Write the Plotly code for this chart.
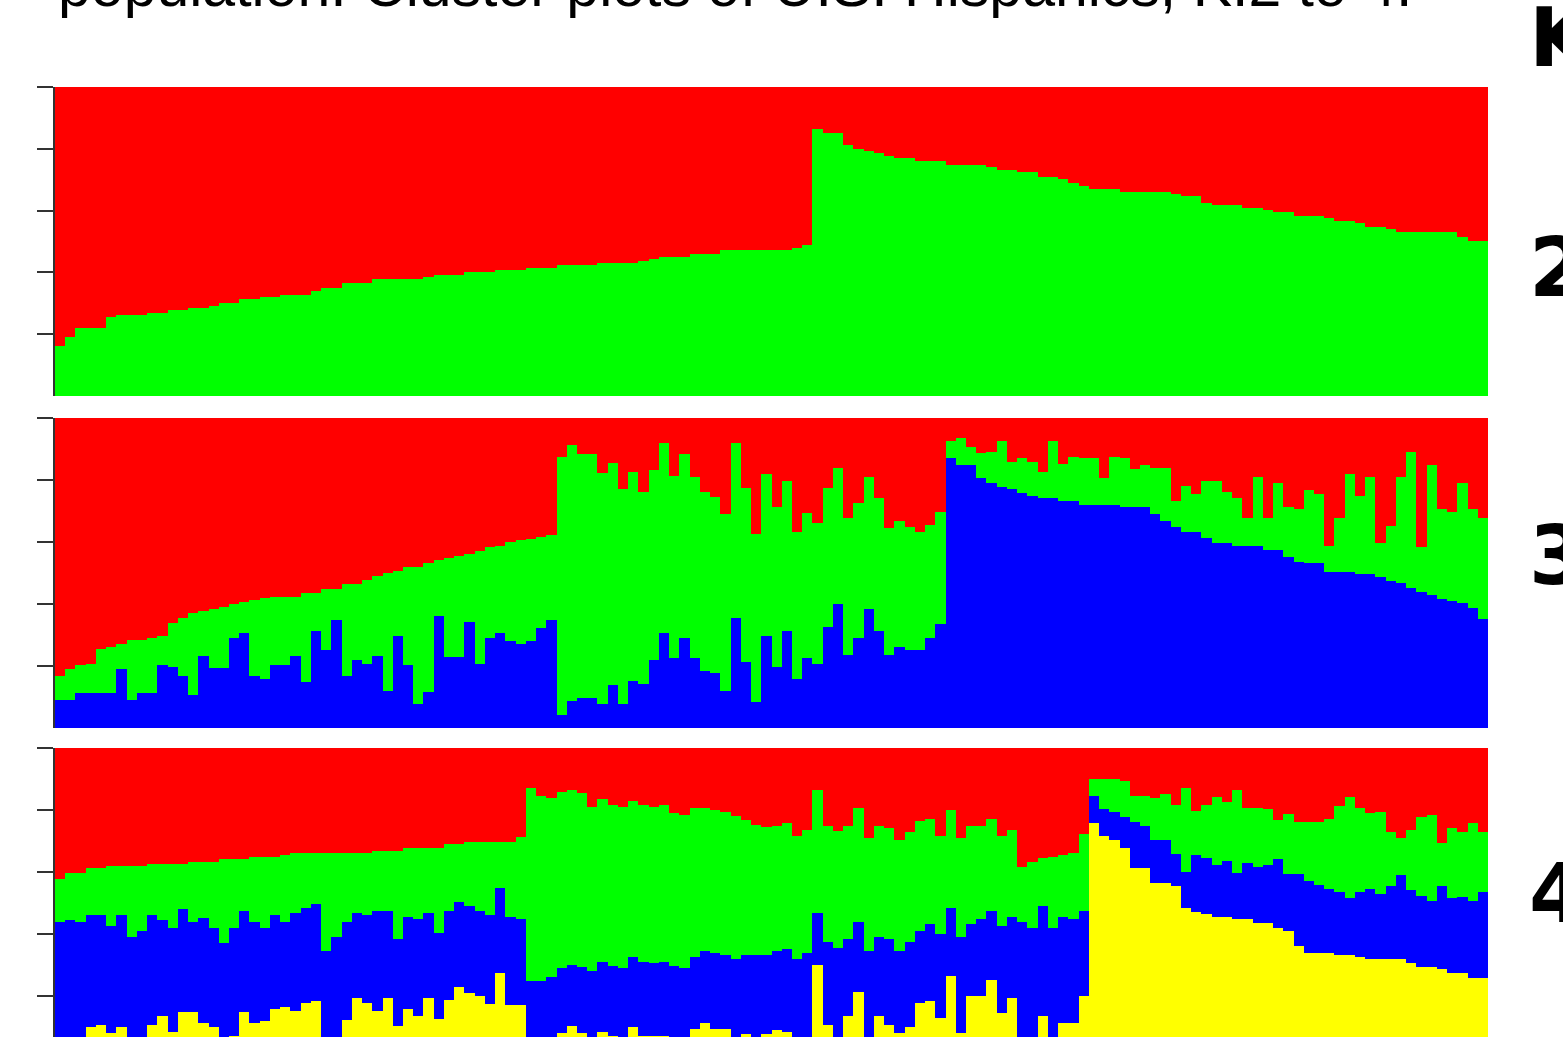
import numpy as np
import plotly.graph_objects as go

# ---------------- data (cluster membership boundaries) -------------
individuals = list(range(140))

# K=2 : proportion of the green cluster (bottom); red = remainder
k2_green = [0.163, 0.192, 0.219, 0.219, 0.219, 0.255, 0.262, 0.262, 0.262, 0.270,
            0.270, 0.278, 0.278, 0.284, 0.284, 0.291, 0.300, 0.300, 0.313, 0.313,
            0.320, 0.320, 0.327, 0.327, 0.327, 0.341, 0.350, 0.350, 0.365, 0.365,
            0.365, 0.378, 0.378, 0.378, 0.378, 0.378, 0.386, 0.393, 0.393, 0.393,
            0.400, 0.400, 0.400, 0.408, 0.408, 0.408, 0.415, 0.415, 0.415, 0.423,
            0.423, 0.423, 0.423, 0.429, 0.429, 0.429, 0.429, 0.436, 0.443, 0.451,
            0.451, 0.451, 0.459, 0.459, 0.459, 0.472, 0.472, 0.472, 0.472, 0.472,
            0.472, 0.472, 0.480, 0.489, 0.863, 0.850, 0.850, 0.812, 0.799, 0.792,
            0.785, 0.777, 0.770, 0.770, 0.762, 0.762, 0.762, 0.747, 0.747, 0.747,
            0.747, 0.740, 0.732, 0.732, 0.725, 0.725, 0.710, 0.710, 0.703, 0.689,
            0.681, 0.670, 0.670, 0.670, 0.661, 0.661, 0.661, 0.661, 0.661, 0.654,
            0.647, 0.647, 0.624, 0.618, 0.618, 0.618, 0.610, 0.610, 0.603, 0.596,
            0.596, 0.582, 0.582, 0.582, 0.576, 0.567, 0.567, 0.559, 0.546, 0.546,
            0.539, 0.530, 0.530, 0.530, 0.530, 0.530, 0.530, 0.516, 0.502, 0.502]

# K=3 : cumulative boundaries (blue at bottom, then green, red on top)
k3_blue_top = [0.090, 0.090, 0.112, 0.112, 0.112, 0.112, 0.189, 0.090, 0.112, 0.112,
               0.203, 0.198, 0.169, 0.106, 0.232, 0.193, 0.193, 0.289, 0.305, 0.169,
               0.157, 0.203, 0.203, 0.232, 0.149, 0.313, 0.252, 0.348, 0.169, 0.219,
               0.206, 0.232, 0.119, 0.297, 0.203, 0.076, 0.117, 0.362, 0.228, 0.228,
               0.341, 0.206, 0.289, 0.305, 0.280, 0.272, 0.280, 0.322, 0.348, 0.042,
               0.087, 0.098, 0.098, 0.076, 0.139, 0.076, 0.153, 0.142, 0.219, 0.305,
               0.225, 0.289, 0.225, 0.184, 0.176, 0.119, 0.356, 0.212, 0.085, 0.297,
               0.198, 0.313, 0.157, 0.225, 0.206, 0.327, 0.399, 0.235, 0.291, 0.384,
               0.314, 0.235, 0.262, 0.252, 0.252, 0.291, 0.334, 0.870, 0.848, 0.848,
               0.805, 0.791, 0.778, 0.771, 0.757, 0.748, 0.741, 0.741, 0.733, 0.733,
               0.719, 0.719, 0.719, 0.719, 0.712, 0.712, 0.712, 0.690, 0.669, 0.647,
               0.633, 0.633, 0.612, 0.596, 0.596, 0.588, 0.588, 0.588, 0.574, 0.574,
               0.553, 0.537, 0.531, 0.531, 0.502, 0.502, 0.502, 0.496, 0.496, 0.488,
               0.474, 0.467, 0.451, 0.438, 0.429, 0.416, 0.410, 0.402, 0.386, 0.351]

k3_green_top = [0.169, 0.189, 0.203, 0.208, 0.254, 0.262, 0.270, 0.284, 0.284, 0.289,
                0.297, 0.340, 0.354, 0.370, 0.378, 0.384, 0.391, 0.399, 0.405, 0.413,
                0.418, 0.421, 0.421, 0.421, 0.434, 0.434, 0.448, 0.448, 0.463, 0.463,
                0.477, 0.491, 0.500, 0.506, 0.520, 0.520, 0.533, 0.542, 0.549, 0.555,
                0.562, 0.571, 0.584, 0.587, 0.599, 0.606, 0.610, 0.615, 0.623, 0.875,
                0.913, 0.884, 0.884, 0.822, 0.854, 0.770, 0.825, 0.762, 0.832, 0.918,
                0.813, 0.883, 0.811, 0.762, 0.746, 0.689, 0.918, 0.775, 0.626, 0.818,
                0.712, 0.797, 0.631, 0.695, 0.660, 0.775, 0.840, 0.676, 0.725, 0.811,
                0.741, 0.646, 0.668, 0.647, 0.633, 0.655, 0.696, 0.927, 0.934, 0.905,
                0.886, 0.891, 0.927, 0.857, 0.870, 0.857, 0.827, 0.927, 0.851, 0.875,
                0.870, 0.870, 0.805, 0.875, 0.870, 0.834, 0.848, 0.840, 0.840, 0.733,
                0.782, 0.754, 0.797, 0.797, 0.762, 0.741, 0.676, 0.811, 0.676, 0.789,
                0.712, 0.705, 0.768, 0.754, 0.588, 0.676, 0.819, 0.748, 0.811, 0.596,
                0.653, 0.811, 0.891, 0.583, 0.848, 0.705, 0.698, 0.789, 0.705, 0.676]

# K=4 : cumulative boundaries (yellow at bottom, blue, green, red on top)
k4_yellow_top = [0.030, 0.030, 0.030, 0.099, 0.106, 0.080, 0.099, 0.030, 0.030, 0.106,
                 0.135, 0.085, 0.149, 0.149, 0.114, 0.101, 0.030, 0.072, 0.149, 0.114,
                 0.119, 0.157, 0.166, 0.153, 0.178, 0.185, 0.030, 0.030, 0.123, 0.192,
                 0.178, 0.153, 0.192, 0.103, 0.157, 0.135, 0.192, 0.125, 0.187, 0.228,
                 0.209, 0.201, 0.174, 0.273, 0.171, 0.171, 0.030, 0.030, 0.030, 0.082,
                 0.104, 0.080, 0.030, 0.083, 0.072, 0.030, 0.099, 0.072, 0.072, 0.072,
                 0.030, 0.030, 0.093, 0.112, 0.093, 0.093, 0.030, 0.077, 0.030, 0.077,
                 0.090, 0.083, 0.030, 0.030, 0.300, 0.106, 0.030, 0.135, 0.214, 0.030,
                 0.135, 0.106, 0.080, 0.099, 0.176, 0.185, 0.130, 0.265, 0.080, 0.200,
                 0.200, 0.252, 0.144, 0.192, 0.030, 0.030, 0.135, 0.030, 0.114, 0.114,
                 0.200, 0.757, 0.716, 0.703, 0.679, 0.614, 0.614, 0.563, 0.563, 0.556,
                 0.483, 0.470, 0.465, 0.456, 0.456, 0.448, 0.448, 0.434, 0.434, 0.418,
                 0.411, 0.361, 0.340, 0.338, 0.338, 0.332, 0.332, 0.327, 0.318, 0.318,
                 0.318, 0.318, 0.308, 0.295, 0.295, 0.287, 0.273, 0.273, 0.259, 0.259]

k4_blue_top = [0.440, 0.445, 0.440, 0.461, 0.461, 0.427, 0.461, 0.391, 0.411, 0.461,
               0.445, 0.418, 0.481, 0.440, 0.453, 0.418, 0.370, 0.418, 0.474, 0.440,
               0.418, 0.461, 0.440, 0.469, 0.483, 0.497, 0.346, 0.389, 0.440, 0.469,
               0.461, 0.475, 0.475, 0.383, 0.454, 0.447, 0.469, 0.404, 0.475, 0.504,
               0.490, 0.475, 0.461, 0.547, 0.456, 0.447, 0.248, 0.248, 0.260, 0.289,
               0.300, 0.295, 0.282, 0.311, 0.297, 0.289, 0.325, 0.311, 0.305, 0.311,
               0.297, 0.289, 0.325, 0.345, 0.340, 0.332, 0.318, 0.332, 0.332, 0.332,
               0.346, 0.352, 0.318, 0.338, 0.469, 0.375, 0.354, 0.383, 0.440, 0.346,
               0.389, 0.383, 0.346, 0.375, 0.411, 0.432, 0.399, 0.483, 0.389, 0.432,
               0.447, 0.475, 0.427, 0.454, 0.440, 0.418, 0.490, 0.420, 0.454, 0.448,
               0.475, 0.845, 0.802, 0.795, 0.779, 0.762, 0.749, 0.703, 0.703, 0.658,
               0.601, 0.655, 0.644, 0.623, 0.637, 0.596, 0.628, 0.615, 0.623, 0.642,
               0.594, 0.594, 0.571, 0.558, 0.545, 0.534, 0.515, 0.534, 0.545, 0.529,
               0.556, 0.590, 0.542, 0.523, 0.506, 0.555, 0.515, 0.520, 0.506, 0.534]

k4_green_top = [0.576, 0.598, 0.598, 0.612, 0.612, 0.619, 0.619, 0.619, 0.619, 0.626,
                0.626, 0.626, 0.626, 0.633, 0.633, 0.633, 0.641, 0.641, 0.641, 0.649,
                0.649, 0.649, 0.655, 0.662, 0.662, 0.662, 0.662, 0.662, 0.662, 0.662,
                0.662, 0.669, 0.669, 0.669, 0.676, 0.676, 0.676, 0.676, 0.690, 0.690,
                0.698, 0.698, 0.698, 0.698, 0.698, 0.714, 0.872, 0.845, 0.840, 0.859,
                0.865, 0.854, 0.811, 0.835, 0.816, 0.811, 0.829, 0.816, 0.811, 0.816,
                0.789, 0.784, 0.808, 0.806, 0.800, 0.795, 0.781, 0.768, 0.752, 0.744,
                0.748, 0.757, 0.716, 0.735, 0.865, 0.749, 0.732, 0.749, 0.808, 0.709,
                0.749, 0.743, 0.703, 0.728, 0.765, 0.771, 0.716, 0.800, 0.709, 0.749,
                0.749, 0.771, 0.716, 0.735, 0.617, 0.633, 0.644, 0.649, 0.655, 0.662,
                0.721, 0.900, 0.900, 0.900, 0.895, 0.845, 0.845, 0.838, 0.852, 0.816,
                0.872, 0.797, 0.816, 0.843, 0.825, 0.865, 0.808, 0.808, 0.802, 0.768,
                0.787, 0.760, 0.760, 0.760, 0.771, 0.814, 0.843, 0.808, 0.789, 0.795,
                0.730, 0.709, 0.735, 0.776, 0.784, 0.695, 0.741, 0.730, 0.757, 0.730]

title_text = "population. Cluster plots of U.S. Hispanics, K:2 to 4."
k_labels = ["K", "2", "3", "4"]
tick_values = [0.2, 0.4, 0.6, 0.8, 1.0]

RED, GREEN, BLUE, YELLOW = "#ff0000", "#00ff00", "#0000ff", "#ffff00"

# ---------------- membership proportions from the boundaries ----------------
g2 = np.array(k2_green)
k2 = [("green", g2, GREEN), ("red", 1 - g2, RED)]

b3, t3 = np.array(k3_blue_top), np.array(k3_green_top)
k3 = [("blue", b3, BLUE), ("green", t3 - b3, GREEN), ("red", 1 - t3, RED)]

y4, b4, t4 = np.array(k4_yellow_top), np.array(k4_blue_top), np.array(k4_green_top)
k4 = [("yellow", y4, YELLOW), ("blue", b4 - y4, BLUE), ("green", t4 - b4, GREEN), ("red", 1 - t4, RED)]

W, H = 1563, 1037
fig = go.Figure()

panels = [(k2, "x", "y"), (k3, "x2", "y2"), (k4, "x3", "y3")]
for comps, xa, ya in panels:
    for name, vals, col in comps:
        fig.add_trace(go.Bar(x=individuals, y=vals, name=name, marker=dict(color=col, line=dict(width=0)),
                             xaxis=xa, yaxis=ya, showlegend=False, hoverinfo="skip"))

xdom = [55 / W, 1488 / W]
def ydom(top_px, bot_px):
    return [(H - bot_px) / H, (H - top_px) / H]

xcommon = dict(domain=xdom, range=[-0.5, 139.5], visible=False, showgrid=False, zeroline=False)
ycommon = dict(showgrid=False, zeroline=False, showticklabels=False, ticks="outside", ticklen=16,
               tickwidth=2, tickcolor="#333333", tickvals=tick_values, showline=True,
               linecolor="#333333", linewidth=2)

fig.update_layout(
    width=W, height=H,
    margin=dict(l=0, r=0, t=0, b=0),
    paper_bgcolor="white", plot_bgcolor="white",
    barmode="stack", bargap=0,
    xaxis=dict(**xcommon, anchor="y"),
    xaxis2=dict(**xcommon, anchor="y2"),
    xaxis3=dict(**xcommon, anchor="y3"),
    yaxis=dict(**ycommon, domain=ydom(87, 396), range=[0, 1], anchor="x"),
    yaxis2=dict(**ycommon, domain=ydom(418, 728), range=[0, 1], anchor="x2"),
    yaxis3=dict(**ycommon, domain=ydom(748, 1037), range=[1 - 289 / 310, 1], anchor="x3"),
)

fig.add_annotation(text=title_text, xref="paper", yref="paper", x=56 / W, y=1 - 21 / H,
                   xanchor="left", yanchor="bottom", showarrow=False,
                   font=dict(family="Liberation Sans, Arial, sans-serif", size=59, color="black"))

label_pos = [38, 267, 555, 893]
for lab, cy in zip(k_labels, label_pos):
    fig.add_annotation(text="<b>%s</b>" % lab, xref="paper", yref="paper", x=1527 / W, y=1 - cy / H,
                       xanchor="left", yanchor="middle", showarrow=False,
                       font=dict(family="DejaVu Sans, sans-serif", size=82, color="black"))

fig.write_html("out.html", config={"displayModeBar": False},
               post_script="document.body.style.margin='0px';")
